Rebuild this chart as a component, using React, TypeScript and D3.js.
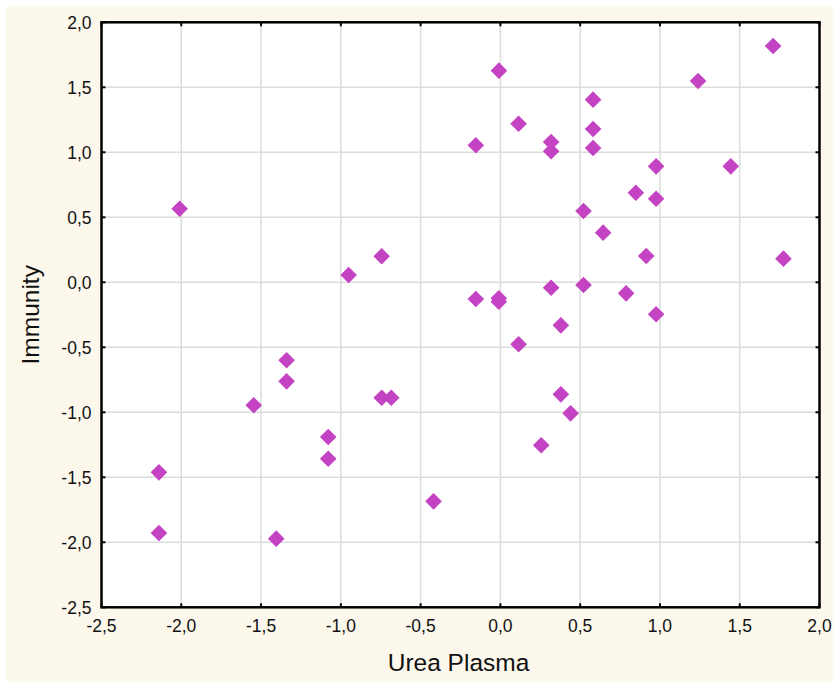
import React from "react";
import * as d3 from "d3";

const ureaPlasma: number[] = [
  -2.01, -2.14, -2.14, -1.405, -1.546, -1.34, -1.34, -1.079, -1.079, -0.951,
  -0.744, -0.744, -0.684, -0.419, -0.154, -0.154, -0.009, -0.01, -0.01, 0.114,
  0.114, 0.256, 0.318, 0.318, 0.318, 0.379, 0.379, 0.44, 0.521, 0.521,
  0.581, 0.581, 0.581, 0.644, 0.788, 0.849, 0.914, 0.976, 0.976, 0.976,
  1.239, 1.444, 1.709, 1.774,
];
const immunity: number[] = [
  0.566, -1.462, -1.928, -1.972, -0.946, -0.6, -0.762, -1.19, -1.357, 0.056,
  0.2, -0.888, -0.888, -1.685, 1.054, -0.128, 1.628, -0.123, -0.149, 1.22,
  -0.477, -1.254, 1.079, 1.008, -0.042, -0.331, -0.862, -1.008, 0.548, -0.021,
  1.405, 1.179, 1.033, 0.382, -0.085, 0.689, 0.202, 0.892, 0.643, -0.246,
  1.548, 0.892, 1.818, 0.182,
];
const xTicks: number[] = [-2.5, -2.0, -1.5, -1.0, -0.5, 0.0, 0.5, 1.0, 1.5, 2.0];
const yTicks: number[] = [-2.5, -2.0, -1.5, -1.0, -0.5, 0.0, 0.5, 1.0, 1.5, 2.0];
const xTitle = "Urea Plasma";
const yTitle = "Immunity";

const W = 833;
const H = 682;
const L = 101.5, R = 819.5, T = 22.3, B = 607.3;
const FONT = "'Liberation Sans', Arial, sans-serif";
const fmt = (v: number) => v.toFixed(1).replace(".", ",");

export default function App() {
  const x = d3.scaleLinear().domain([-2.5, 2.0]).range([L, R]);
  const y = d3.scaleLinear().domain([-2.5, 2.0]).range([B, T]);
  const s = 8.3;
  const diamond = (cx: number, cy: number) =>
    `M${cx},${cy - s}L${cx + s},${cy}L${cx},${cy + s}L${cx - s},${cy}Z`;
  const tickLen = 4;
  return (
    <svg
      width={W}
      height={H}
      style={{ position: "absolute", left: 0, top: 0, display: "block" }}
      fontFamily={FONT}
    >
      <rect x={0} y={0} width={W} height={H} fill="#ffffff" />
      <rect x={6} y={6} width={W - 6} height={H - 6} fill="#fdf8ec" />
      <rect x={L} y={T} width={R - L} height={B - T} fill="#ffffff" />
      {xTicks.slice(1, -1).map((t) => (
        <line key={"gx" + t} x1={x(t)} x2={x(t)} y1={T} y2={B} stroke="#dcdcdc" strokeWidth={1.5} />
      ))}
      {yTicks.slice(1, -1).map((t) => (
        <line key={"gy" + t} y1={y(t)} y2={y(t)} x1={L} x2={R} stroke="#dcdcdc" strokeWidth={1.5} />
      ))}
      {ureaPlasma.map((v, i) => (
        <path key={"p" + i} d={diamond(x(v), y(immunity[i]))} fill="#c443c3" />
      ))}
      <rect x={L} y={T} width={R - L} height={B - T} fill="none" stroke="#000" strokeWidth={2.5} />
      {xTicks.map((t) => (
        <g key={"tx" + t}>
          <line x1={x(t)} x2={x(t)} y1={B} y2={B - tickLen} stroke="#000" strokeWidth={2} />
          <line x1={x(t)} x2={x(t)} y1={T} y2={T + tickLen} stroke="#000" strokeWidth={2} />
          <text x={x(t)} y={632} fontSize={17.5} textAnchor="middle" fill="#111">
            {fmt(t)}
          </text>
        </g>
      ))}
      {yTicks.map((t) => (
        <g key={"ty" + t}>
          <line y1={y(t)} y2={y(t)} x1={L} x2={L + tickLen} stroke="#000" strokeWidth={2} />
          <line y1={y(t)} y2={y(t)} x1={R} x2={R - tickLen} stroke="#000" strokeWidth={2} />
          <text x={91.5} y={y(t) + 6.3} fontSize={17.5} textAnchor="end" fill="#111">
            {fmt(t)}
          </text>
        </g>
      ))}
      <text x={(L + R) / 2 - 2} y={671} fontSize={24.5} textAnchor="middle" fill="#111">
        {xTitle}
      </text>
      <text
        transform={`translate(39,${(T + B) / 2}) rotate(-90)`}
        fontSize={24.5}
        textAnchor="middle"
        fill="#111"
      >
        {yTitle}
      </text>
    </svg>
  );
}
